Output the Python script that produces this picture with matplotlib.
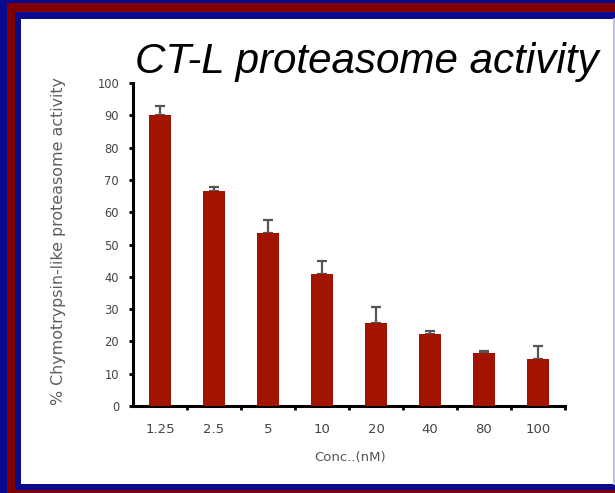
import matplotlib
matplotlib.use("Agg")
import matplotlib.pyplot as plt
from matplotlib.patches import Rectangle
from matplotlib.lines import Line2D

# Concentrations (nM) and chymotrypsin-like activity (% of control)
concentrations = ["1.25", "2.5", "5", "10", "20", "40", "80", "100"]
activity = [90, 66.5, 53.5, 41, 25.8, 22.2, 16.3, 14.7]
activity_sd = [2.8, 1.3, 4.0, 3.8, 4.7, 0.9, 0.7, 3.9]

W, H = 615, 493
fig = plt.figure(figsize=(W / 100, H / 100), dpi=100)
fig.patch.set_facecolor("#0b0a8c")

def px_rect(x0, y0, x1, y1, color, z):
    # rectangle given in pixel coordinates measured from the top-left corner
    fig.patches.append(Rectangle((x0 / W, 1 - y1 / H), (x1 - x0) / W, (y1 - y0) / H,
                                 transform=fig.transFigure, facecolor=color,
                                 edgecolor="none", zorder=z))

def px(x, y):
    return x / W, 1 - y / H

# slide frame: navy / dark red / navy / white panel
px_rect(7, 3, 640, 520, "#800000", 0)
px_rect(15, 12, 640, 490, "#0b0a8c", 1)
px_rect(21, 19, 613, 484, "white", 2)
fig.lines.append(Line2D([613.5 / W, 613.5 / W], [1 - 484 / H, 1 - 19 / H],
                        transform=fig.transFigure, color="#e4e4f0", lw=1.2, zorder=3))

ax = fig.add_axes([133 / W, 1 - 406 / H, (565 - 133) / W, (406 - 83) / H])
ax.set_facecolor("none")
ax.set_zorder(5)

x = range(len(concentrations))
ax.bar(x, activity, width=0.4, color="#a31400", edgecolor="none", zorder=3)
ax.errorbar(x, activity, yerr=[[0] * len(activity_sd), activity_sd], fmt="none",
            ecolor="#555555", elinewidth=1.6, capsize=3.5, capthick=1.6, zorder=2)

ax.set_xlim(-0.5, len(concentrations) - 0.5)
ax.set_ylim(0, 100)
ax.set_yticks(range(0, 101, 10))
ax.set_xticks(list(x))
ax.set_xticklabels(concentrations)
ax.set_xticks([i + 0.5 for i in range(len(concentrations))], minor=True)

for side in ("top", "right"):
    ax.spines[side].set_visible(False)
for side in ("left", "bottom"):
    ax.spines[side].set_linewidth(2.2)
    ax.spines[side].set_color("black")

ax.tick_params(axis="y", direction="out", length=3, width=2, labelsize=8.3,
               labelcolor="#444444", pad=7, labelfontfamily="DejaVu Sans")
ax.tick_params(axis="x", which="major", length=0, labelsize=9.5,
               labelcolor="#444444", pad=12, labelfontfamily="DejaVu Sans")
ax.tick_params(axis="x", which="minor", direction="out", length=3, width=2)

fig.text(*px(58, 241), "% Chymotrypsin-like proteasome activity", rotation=90,
         ha="center", va="center", fontsize=11.4, color="#5e5e5e",
         family="DejaVu Sans", zorder=6)
fig.text(*px(350, 458), "Conc..(nM)", ha="center", va="center", fontsize=9.5,
         color="#555555", family="DejaVu Sans", zorder=6)

fig.text(*px(366.5, 73), "CT-L proteasome activity", ha="center",
         va="baseline", fontsize=30.3, style="italic", family="Liberation Sans",
         color="black", zorder=6)

fig.savefig("out.png", dpi=100, facecolor=fig.get_facecolor())
